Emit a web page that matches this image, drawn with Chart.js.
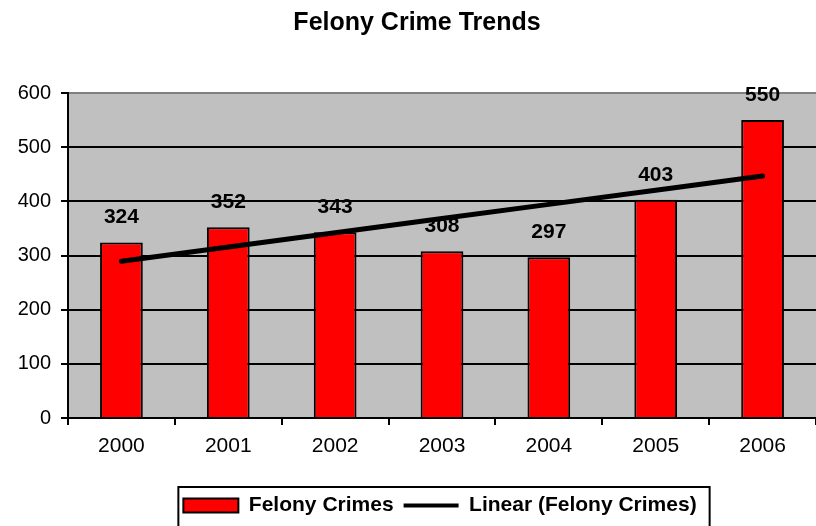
<!DOCTYPE html>
<html>
<head>
<meta charset="utf-8">
<title>Felony Crime Trends</title>
<script src="https://cdn.jsdelivr.net/npm/chart.js@4.4.1/dist/chart.umd.min.js"></script>
<style>
  html, body { margin: 0; padding: 0; background: #fff; }
  #wrap { width: 816px; height: 526px; }
</style>
</head>
<body>
<div id="wrap"><canvas id="crimeChart" width="816" height="526"></canvas></div>
<script>
var years = ["2000", "2001", "2002", "2003", "2004", "2005", "2006"];
var felonyCrimes = [324, 352, 343, 308, 297, 403, 550];
var yTicks = [0, 100, 200, 300, 400, 500, 600];

var fontFamily = "'Liberation Sans', Arial, sans-serif";

// least squares line through the yearly counts (Excel style linear trendline)
function linearTrend(values) {
    var n = values.length;
    var sx = 0, sy = 0, sxy = 0, sxx = 0;
    for (var i = 0; i < n; i++) {
        sx += i; sy += values[i]; sxy += i * values[i]; sxx += i * i;
    }
    var slope = (n * sxy - sx * sy) / (n * sxx - sx * sx);
    var intercept = (sy - slope * sx) / n;
    var out = [];
    for (var j = 0; j < n; j++) {
        out.push(intercept + slope * j);
    }
    return out;
}

var trend = linearTrend(felonyCrimes);

// gray plot background
var plotBackground = {
    id: 'plotBackground',
    beforeDraw: function (chart) {
        var a = chart.chartArea;
        var ctx = chart.ctx;
        ctx.save();
        ctx.fillStyle = '#C0C0C0';
        ctx.fillRect(a.left, a.top, a.right - a.left, a.bottom - a.top);
        ctx.restore();
    }
};

// value labels above each bar
var barLabels = {
    id: 'barLabels',
    afterDatasetsDraw: function (chart) {
        var ctx = chart.ctx;
        var meta = chart.getDatasetMeta(1);
        ctx.save();
        ctx.font = 'bold 21px ' + fontFamily;
        ctx.fillStyle = '#000';
        ctx.textAlign = 'center';
        ctx.textBaseline = 'middle';
        meta.data.forEach(function (bar, i) {
            ctx.fillText(String(felonyCrimes[i]), bar.x, bar.y - 25);
        });
        ctx.restore();
    }
};

// nudge title and legend sideways, then box the legend
var legendFrame = {
    id: 'legendFrame',
    afterUpdate: function (chart) {
        var t = chart.titleBlock;
        t.left += 9;
        t.right += 9;

        var lg = chart.legend;
        var boxes = lg.legendHitBoxes;
        var first = boxes[0], last = boxes[boxes.length - 1];
        var mid = (first.left + last.left + last.width) / 2;
        var dx = 440 - mid;
        lg.left += dx;
        lg.right += dx;
        boxes.forEach(function (b) { b.left += dx; });
    },
    afterDraw: function (chart) {
        var lg = chart.legend;
        var boxes = lg.legendHitBoxes;
        var first = boxes[0], last = boxes[boxes.length - 1];
        var ctx = chart.ctx;
        var x0 = first.left - 5;
        var x1 = last.left + last.width + 13;
        ctx.save();
        ctx.strokeStyle = '#000';
        ctx.lineWidth = 2;
        ctx.strokeRect(x0, lg.top + 2, x1 - x0, 60);
        ctx.restore();
    }
};

var ctx = document.getElementById('crimeChart').getContext('2d');
var chart = new Chart(ctx, {
    type: 'bar',
    data: {
        labels: years,
        datasets: [{
            type: 'line',
            label: 'Linear (Felony Crimes)',
            data: trend,
            borderColor: '#000',
            borderWidth: 5,
            borderCapStyle: 'round',
            pointRadius: 0,
            fill: false,
            order: 0
        }, {
            type: 'bar',
            label: 'Felony Crimes',
            data: felonyCrimes,
            backgroundColor: '#FF0000',
            borderColor: '#000',
            borderWidth: 2,
            barPercentage: 0.4,
            categoryPercentage: 1.0,
            order: 1
        }]
    },
    plugins: [plotBackground, barLabels, legendFrame],
    options: {
        responsive: false,
        animation: false,
        layout: { padding: 0 },
        scales: {
            x: {
                offset: true,
                grid: {
                    offset: true,
                    drawOnChartArea: false,
                    drawTicks: true,
                    tickLength: 7,
                    color: '#000',
                    lineWidth: 2
                },
                border: { color: '#000', width: 2 },
                ticks: {
                    color: '#000',
                    padding: 9,
                    font: { family: fontFamily, size: 21 }
                },
                afterFit: function (scale) { scale.height = 67; }
            },
            y: {
                min: 0,
                max: 600,
                afterBuildTicks: function (scale) {
                    scale.ticks = yTicks.map(function (v) { return { value: v }; });
                },
                grid: {
                    color: function (c) { return c.tick && c.tick.value === 600 ? '#808080' : '#000'; },
                    tickColor: '#000',
                    lineWidth: 2,
                    tickLength: 7
                },
                border: { color: '#000', width: 2 },
                ticks: {
                    color: '#000',
                    padding: 10,
                    font: { family: fontFamily, size: 20 }
                },
                afterFit: function (scale) { scale.width = 68; }
            }
        },
        plugins: {
            title: {
                display: true,
                text: 'Felony Crime Trends',
                color: '#000',
                font: { family: fontFamily, size: 25, weight: 'bold' },
                padding: { top: 8, bottom: 55 }
            },
            legend: {
                position: 'bottom',
                labels: {
                    usePointStyle: true,
                    pointStyleWidth: 55,
                    boxHeight: 14,
                    padding: 10,
                    color: '#000',
                    font: { family: fontFamily, size: 21, weight: 'bold' },
                    generateLabels: function () {
                        return [{
                            text: 'Felony Crimes',
                            fillStyle: '#FF0000',
                            strokeStyle: '#000',
                            lineWidth: 2,
                            pointStyle: 'rect',
                            fontColor: '#000',
                            hidden: false,
                            datasetIndex: 1
                        }, {
                            text: 'Linear (Felony Crimes)',
                            fillStyle: '#000',
                            strokeStyle: '#000',
                            lineWidth: 4,
                            pointStyle: 'line',
                            fontColor: '#000',
                            hidden: false,
                            datasetIndex: 0
                        }];
                    }
                }
            },
            tooltip: { enabled: false }
        }
    }
});
</script>
</body>
</html>
